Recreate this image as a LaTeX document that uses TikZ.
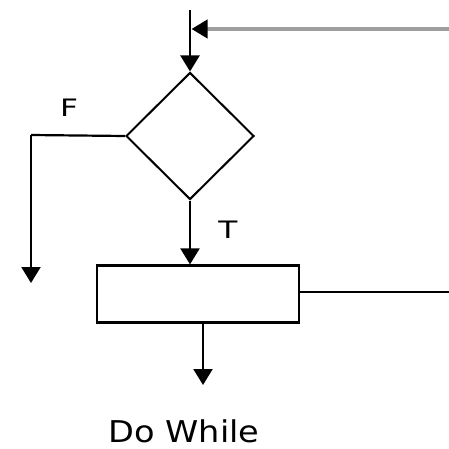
\documentclass[tikz,border=0pt]{standalone}
\usepackage{fontspec}
\setmainfont{DejaVu Sans}
\usetikzlibrary{shapes.geometric,arrows.meta}
\begin{document}
\begin{tikzpicture}[x=1pt,y=1pt,
  line/.style={line width=2.2pt,black},
  tip/.tip={Triangle[width=19pt,length=16pt]},
  arr/.style={line, -tip},
  lbl/.style={font=\fontsize{24}{24}\selectfont, xscale=1.3, inner sep=0pt}]
\useasboundingbox[fill=white] (0,0) rectangle (449,448);
\node[diamond, draw, line width=2pt, minimum width=128pt, minimum height=127pt, inner sep=0pt] (dec) at (190,312) {};
\node[draw, line width=2.2pt, minimum width=202pt, minimum height=57pt, inner sep=0pt] (body) at (198,154) {};
\coordinate (top) at (190,438);
\coordinate (join) at (190,419);
\coordinate (back) at (449,419);
\coordinate (fcorner) at (31,313);
\coordinate (fend) at (31,165);
\coordinate (rend) at (449,156);
\coordinate (exit) at (203,63);
\draw[arr] (top) -- (dec.north);
\draw[line width=4pt, gray!75, -{Triangle[width=18pt,length=16pt,fill=black,color=black]}, shorten >=1.5pt] (back) -- (join);
\draw[line] (dec.west) -- (fcorner);
\draw[arr] (fcorner) -- (fend);
\draw[arr] (dec.south) -- (dec.south |- body.north);
\draw[line] (body.east |- rend) -- (rend);
\draw[arr] ([xshift=5pt]body.south) -- (exit);
\node[lbl] (F) at (69,340) {F};
\node[lbl] (T) at (228,218) {T};
\node[font=\fontsize{30}{30}\selectfont, xscale=1.12, inner sep=0pt] (title) at (184,17) {Do While};
\end{tikzpicture}
\end{document}
